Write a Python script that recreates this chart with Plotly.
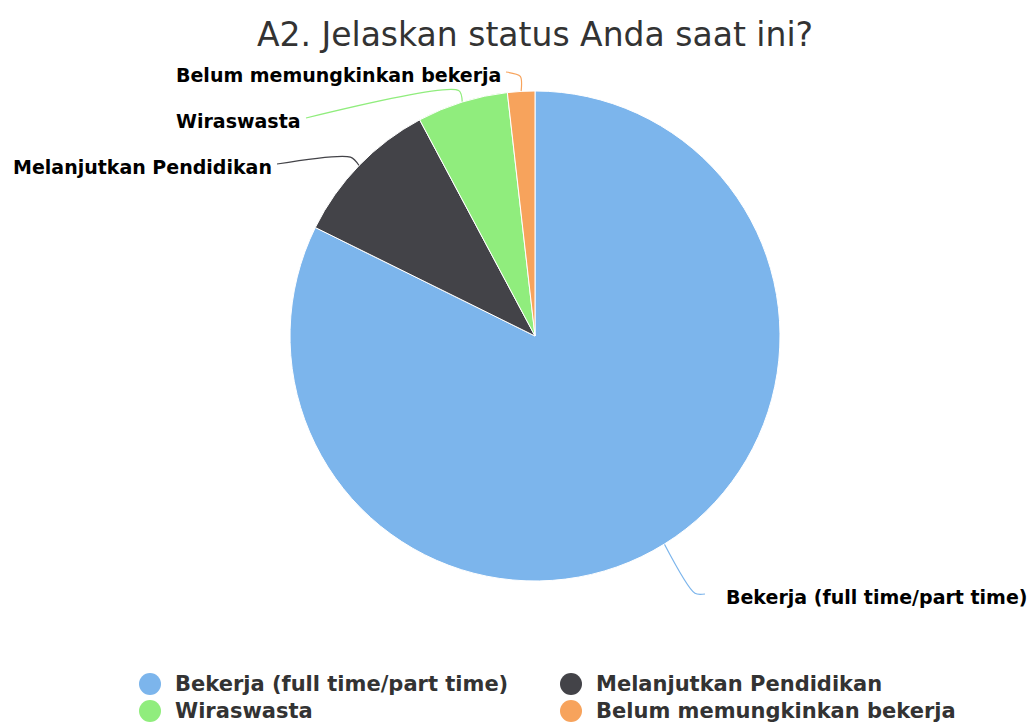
import math
import plotly.graph_objects as go

# ---- data ----
categories = ["Bekerja (full time/part time)", "Melanjutkan Pendidikan", "Wiraswasta", "Belum memungkinkan bekerja"]
values = [82.3, 9.9, 6.0, 1.8]
colors = ["#7cb5ec", "#434348", "#90ed7d", "#f7a35c"]
title_text = "A2. Jelaskan status Anda saat ini?"

# ---- layout (pixels) ----
W, H = 1030, 722
CX, CY, R = 535, 336, 245
# label text anchors (x, y, side) and connector bend distances
label_anchor = [(724, 597, "left"), (274, 167, "right"), (303, 121, "right"), (503, 75, "right")]
bend = [58, 12, 12, 15]
# legend grid (2 columns)
legend_cols = [150, 571]
legend_rows = [684, 711]
FONT = "DejaVu Sans"

fig = go.Figure()

fig.add_trace(go.Pie(
    labels=categories, values=values, sort=False, direction="clockwise", rotation=0,
    marker=dict(colors=colors, line=dict(color="white", width=1)),
    textinfo="none", hoverinfo="skip", showlegend=False,
    domain=dict(x=[(CX - R) / W, (CX + R) / W], y=[(H - CY - R) / H, (H - CY + R) / H]),
))

# connectors from slice mid-angles
total = sum(values)
cum = 0.0
for i, v in enumerate(values):
    mid = (cum + v / 2) / total * 2 * math.pi
    cum += v
    ux, uy = math.sin(mid), -math.cos(mid)
    p0 = (CX + R * ux, CY + R * uy)
    p1 = (CX + (R + bend[i]) * ux, CY + (R + bend[i]) * uy)
    lx, ly, side = label_anchor[i]
    p2 = (lx - 19, ly - 3) if side == "left" else (lx + 3, ly - 3)
    fig.add_trace(go.Scatter(
        x=[p0[0], p1[0], p2[0]], y=[p0[1], p1[1], p2[1]], mode="lines",
        line=dict(color=colors[i], width=1.2, shape="spline", smoothing=0.8),
        hoverinfo="skip", showlegend=False,
    ))
    fig.add_annotation(
        x=lx, y=ly, xref="x", yref="y", text="<b>%s</b>" % categories[i], showarrow=False,
        xanchor="left" if side == "left" else "right", yanchor="middle",
        font=dict(family=FONT, size=19, color="#000000"),
    )

# legend (2-column grid, circle symbols)
for i, (c, col) in enumerate(zip(categories, colors)):
    gx = legend_cols[i % 2]
    gy = legend_rows[i // 2]
    fig.add_trace(go.Scatter(
        x=[gx], y=[gy], mode="markers",
        marker=dict(symbol="circle", size=22, color=col, line=dict(width=0)),
        hoverinfo="skip", showlegend=False,
    ))
    fig.add_annotation(
        x=gx + 23, y=gy, xref="x", yref="y", text="<b>%s</b>" % c, showarrow=False,
        xanchor="left", yanchor="middle",
        font=dict(family=FONT, size=21, color="#333333"),
    )

fig.update_layout(
    width=W, height=H, margin=dict(l=0, r=0, t=0, b=0),
    paper_bgcolor="white", plot_bgcolor="rgba(0,0,0,0)",
    xaxis=dict(range=[0, W], visible=False, fixedrange=True, domain=[0, 1]),
    yaxis=dict(range=[H, 0], visible=False, fixedrange=True, domain=[0, 1]),
    title=dict(text=title_text, x=CX / W, xanchor="center", y=1 - 34 / H, yanchor="middle",
               font=dict(family=FONT, size=33, color="#333333")),
    showlegend=False,
)

fig.write_html("out.html", config={"displayModeBar": False},
               post_script="document.body.style.margin='0';document.body.style.overflow='hidden';")
